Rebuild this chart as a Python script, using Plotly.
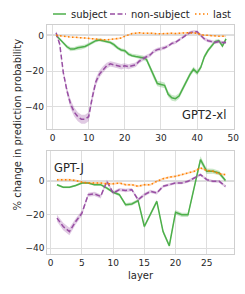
import plotly.graph_objects as go

# ---------------- data ----------------
layers_gpt2 = list(range(1, 49))
subject_gpt2 = [0, -2, -4, -6.4, -7.7, -7.7, -7, -6.7, -6.2, -5.2, -4, -3, -2.6, -3, -3.4, -4,
                -5.2, -7, -8.2, -8.6, -10.5, -11.4, -11.8, -12, -12.5, -13.5, -18, -23, -27, -27.5,
                -28, -33, -35, -35.5, -34, -30, -26, -22, -19, -21, -18, -12, -8.5, -6, -3.5, -3, -6, -2]
subject_gpt2_ci = [0.5, 0.6, 0.8, 1, 1.2, 1.2, 1.2, 1.2, 1.1, 1, 1, 0.9, 0.9, 0.9, 0.9, 0.9,
                   1, 1, 1, 1, 1.1, 1.1, 1.2, 1.2, 1.2, 1.3, 1.4, 1.5, 1.6, 1.6,
                   1.6, 1.6, 1.6, 1.6, 1.6, 1.5, 1.5, 1.4, 1.4, 1.4, 1.3, 1.2, 1.1, 1, 1, 1, 1, 1]
nonsubject_gpt2 = [1.5, -5, -21, -31, -38.5, -43, -45.6, -47, -47, -45.6, -34.8, -26, -21.7, -19, -17, -16,
                   -16.5, -17, -17.6, -17, -17.6, -17, -16.5, -14.5, -13, -12, -11, -9, -8, -7.5,
                   -7, -6, -4.5, -4, -2.5, -1, 0.5, 1.5, 2, 2, 0, -2, -3, -3.5, -4, -3.5, -4, -4]
nonsubject_gpt2_ci = [1, 1, 1.5, 2, 2.5, 2.5, 2.5, 2.5, 2.5, 2.5, 2.5, 2.2, 2, 1.8, 1.6, 1.5,
                      1.5, 1.5, 1.5, 1.4, 1.4, 1.3, 1.3, 1.2, 1.2, 1.1, 1.1, 1, 1, 1,
                      1, 0.9, 0.9, 0.9, 0.9, 0.9, 0.9, 0.9, 0.9, 0.9, 0.9, 0.9, 0.9, 0.9, 0.9, 0.9, 0.9, 0.9]
last_gpt2 = [0, -0.3, -0.5, -0.8, -1, -1, -1.2, -1.3, -1.5, -1.5, -1.8, -2, -2.3, -2.6, -2.6, -2.3,
             -2, -2, -1.5, -0.5, 0.3, 1, 1.2, 1.5, 1.2, 1.3, 1, 1.2, 0.8, 1,
             0.8, 1, 1.2, 1, 1, 1.3, 1.5, 1.5, 1.5, 1.2, 0.5, 0, 0, -0.3, -0.3, -0.5, -0.5, -0.5]
last_gpt2_ci = [0.4] * 48

layers_gptj = list(range(1, 29))
subject_gptj = [-2, -3.5, -3.5, -2.5, -1, -1, -2, -2, -4, -6.5, -8, -14, -13.5, -11.5,
                -27, -19.5, -12, -30, -38.5, -18.5, -20, -20, -3, 13, 6, 6, 5, 0.5]
subject_gptj_ci = [0.6, 0.6, 0.6, 0.6, 0.6, 0.6, 0.7, 0.7, 0.8, 0.8, 0.9, 1, 1, 1,
                   1.2, 1.2, 1.2, 1.3, 1.4, 1.3, 1.3, 1.3, 1.5, 2, 1.6, 1.5, 1.3, 1]
nonsubject_gptj = [-22, -27, -30, -24, -19, -8, -7.5, -9, 0, -7, -5, -5.5, -5, -11,
                   -8, -6, -7, -3, -2, -1, -1, 0, 2, 4, 1, 0, 0, -3]
nonsubject_gptj_ci = [2, 2.2, 2.2, 1.8, 1.5, 1.2, 1.2, 1.2, 1, 1, 1, 1, 1, 1,
                      1, 0.9, 0.9, 0.8, 0.8, 0.8, 0.8, 0.8, 0.8, 0.8, 0.8, 0.8, 0.8, 0.8]
last_gptj = [1, 1, 1, 0.5, -0.5, -1, -1, -1, -1.5, -1.5, -1, -2, -2, -3,
             -2, -2, 0, 1.5, 2.5, 3, 4, 5, 6, 8, 6.5, 6, 4.5, 4]
last_gptj_ci = [0.6] * 28

series_names = ["subject", "non-subject", "last"]
colors = {"subject": "#4daf4a", "non-subject": "#984ea3", "last": "#ff7f00"}
fills = {"subject": "rgba(77,175,74,0.3)", "non-subject": "rgba(152,78,163,0.3)",
         "last": "rgba(255,127,0,0.3)"}
dashes = {"subject": "solid", "non-subject": "5px,2.5px", "last": "1.5px,2.5px"}

W, H = 245, 294
TXT = "#262626"
FONT = "DejaVu Sans"

fig = go.Figure()


def add_series(x, y, ci, name, xa, ya):
    upper = [a + b for a, b in zip(y, ci)]
    lower = [a - b for a, b in zip(y, ci)]
    fig.add_trace(go.Scatter(x=x + x[::-1], y=upper + lower[::-1], fill="toself",
                             fillcolor=fills[name], line=dict(width=0), hoverinfo="skip",
                             showlegend=False, xaxis=xa, yaxis=ya))
    fig.add_trace(go.Scatter(x=x, y=y, mode="lines", name=name,
                             line=dict(color=colors[name], width=1.5, dash=dashes[name]),
                             showlegend=False, xaxis=xa, yaxis=ya))


add_series(layers_gpt2, subject_gpt2, subject_gpt2_ci, "subject", "x", "y")
add_series(layers_gpt2, nonsubject_gpt2, nonsubject_gpt2_ci, "non-subject", "x", "y")
add_series(layers_gpt2, last_gpt2, last_gpt2_ci, "last", "x", "y")
add_series(layers_gptj, subject_gptj, subject_gptj_ci, "subject", "x2", "y2")
add_series(layers_gptj, nonsubject_gptj, nonsubject_gptj_ci, "non-subject", "x2", "y2")
add_series(layers_gptj, last_gptj, last_gptj_ci, "last", "x2", "y2")


def px_x(p):
    return p / W


def px_y(p):
    return 1 - p / H


grid = "#dedede"
axis_common = dict(showgrid=True, gridcolor=grid, gridwidth=1, showline=True, mirror=True,
                   linecolor="#cfcfcf", linewidth=1, ticks="", automargin=False,
                   tickfont=dict(family=FONT, size=9, color=TXT), zeroline=False)

fig.update_layout(
    width=W, height=H, margin=dict(l=0, r=0, t=0, b=0),
    plot_bgcolor="white", paper_bgcolor="white", showlegend=False,
    xaxis=dict(domain=[px_x(46.7), px_x(234)], range=[-1.6, 50.2], tickvals=[0, 10, 20, 30, 40, 50],
               anchor="y", **axis_common),
    yaxis=dict(domain=[px_y(129), px_y(25)], range=[-52.5, 5.8], tickvals=[0, -20, -40],
               anchor="x", **axis_common),
    xaxis2=dict(domain=[px_x(47.3), px_x(234)], range=[-0.55, 29.37], tickvals=[0, 5, 10, 15, 20, 25],
                anchor="y2", **axis_common),
    yaxis2=dict(domain=[px_y(254.3), px_y(150.7)], range=[-43.6, 18.3], tickvals=[0, -20, -40],
                anchor="x2", **axis_common),
)

# zero reference lines
for xa, ya in (("x", "y"), ("x2", "y2")):
    fig.add_shape(type="line", xref=f"{xa} domain", yref=ya, x0=0, x1=1, y0=0, y1=0,
                  line=dict(color="#808080", width=1.3), layer="below")

# panel labels
fig.add_annotation(text="GPT2-xl", xref="x domain", yref="y domain", x=0.97, y=0.05,
                   xanchor="right", yanchor="bottom", showarrow=False,
                   font=dict(family=FONT, size=11.5, color=TXT))
fig.add_annotation(text="GPT-J", xref="x2 domain", yref="y2 domain", x=0.025, y=0.92,
                   xanchor="left", yanchor="top", showarrow=False,
                   font=dict(family=FONT, size=11.5, color=TXT))

# axis titles
fig.add_annotation(text="layer", xref="paper", yref="paper", x=px_x(140.5), y=px_y(283),
                   showarrow=False, font=dict(family=FONT, size=10, color=TXT))
fig.add_annotation(text="% change in prediction probability", xref="paper", yref="paper",
                   x=px_x(10), y=px_y(125), textangle=-90, showarrow=False,
                   font=dict(family=FONT, size=10, color=TXT))

# legend (drawn manually to match the compact layout)
leg_y = px_y(14)
leg_items = [("subject", 53, 66, 69), ("non-subject", 110, 126, 129), ("last", 195, 208, 211)]
for name, x0, x1, xt in leg_items:
    fig.add_shape(type="line", xref="paper", yref="paper", x0=px_x(x0), x1=px_x(x1),
                  y0=leg_y, y1=leg_y,
                  line=dict(color=colors[name], width=1.5, dash=dashes[name]))
    fig.add_annotation(text=name, xref="paper", yref="paper", x=px_x(xt), y=leg_y,
                       xanchor="left", yanchor="middle", showarrow=False,
                       font=dict(family=FONT, size=10, color=TXT))

fig.write_html("out.html", config={"displayModeBar": False},
               post_script="document.body.style.margin='0px';"
                           "document.body.style.overflow='hidden';")
